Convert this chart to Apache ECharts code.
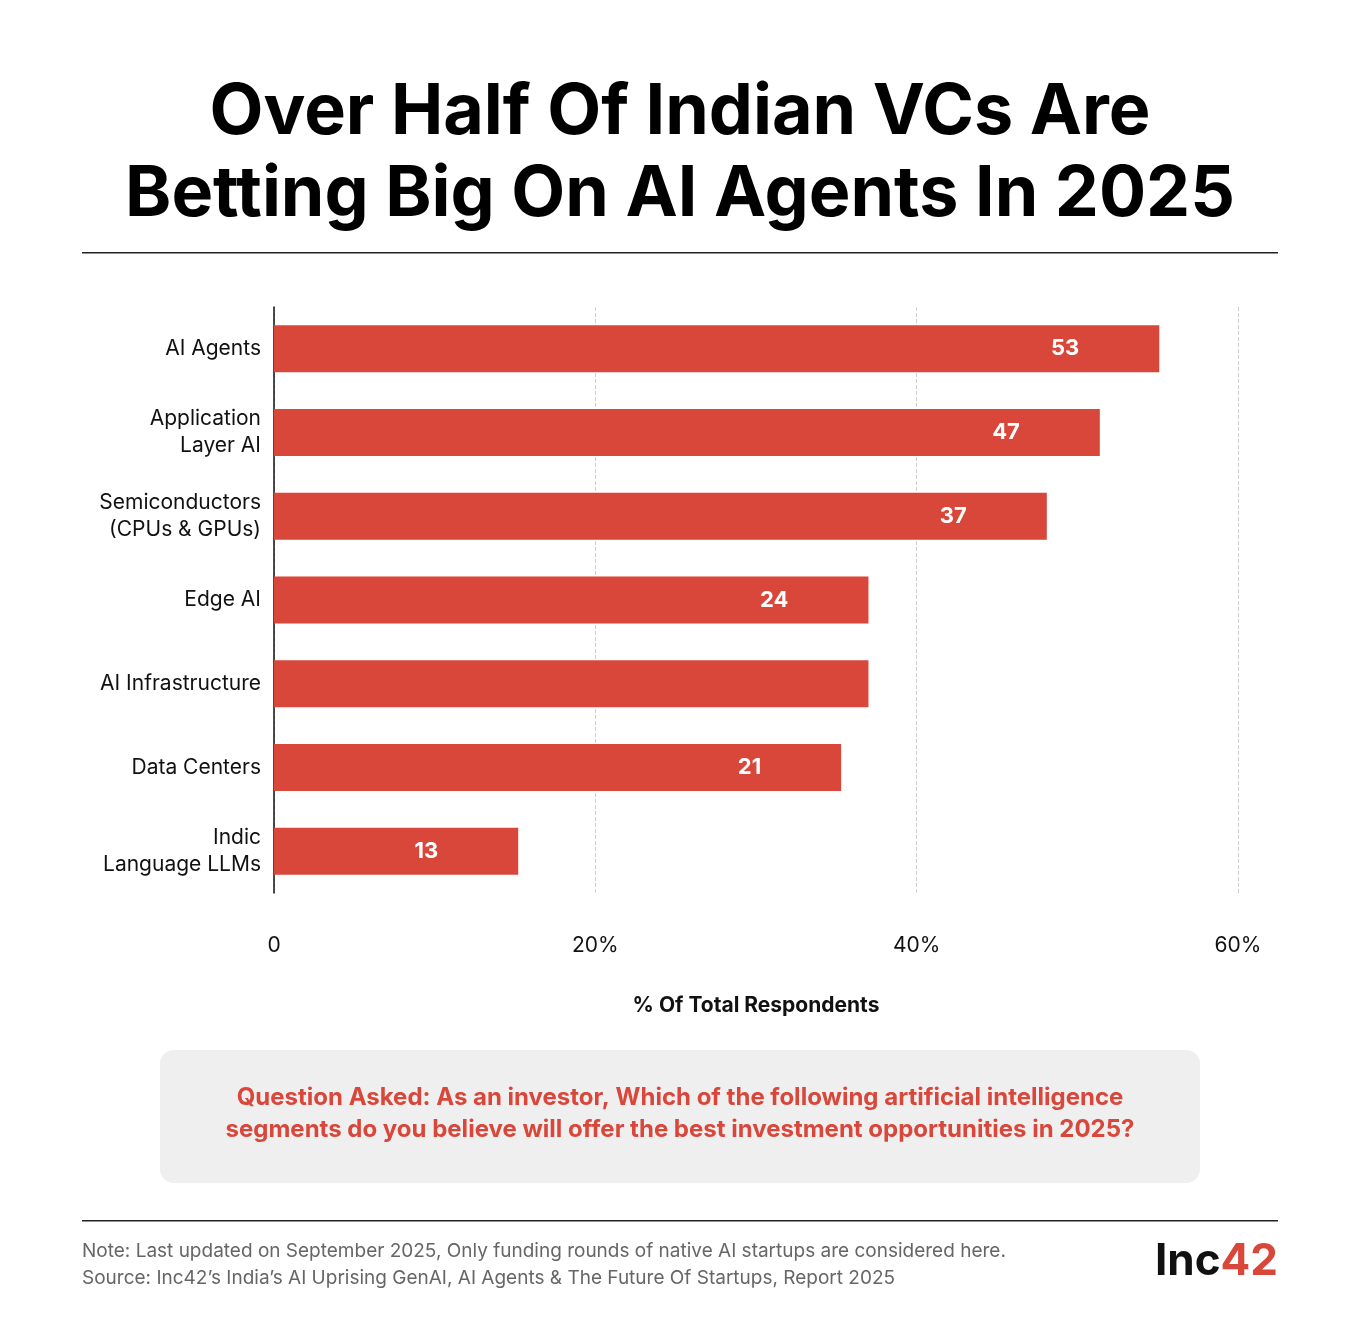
<!DOCTYPE html>
<html>
<head>
<meta charset="utf-8">
<script src="https://cdn.jsdelivr.net/npm/echarts@6/dist/echarts.min.js"></script>
<style>
html,body{margin:0;padding:0;background:#fff;}
#chart{width:1360px;height:1340px;}
</style>
</head>
<body>
<div id="chart"></div>
<script>
"use strict";
// 数据
var categories = ['AI Agents', 'Application\nLayer AI', 'Semiconductors\n(CPUs & GPUs)', 'Edge AI', 'AI Infrastructure', 'Data Centers', 'Indic\nLanguage LLMs'];
// bar lengths as drawn in the picture (% of axis)
var barValues = [55.1, 51.4, 48.1, 37, 37, 35.3, 15.2];
// labels printed on the bars
var barLabels = ['53', '47', '37', '24', '', '21', '13'];
var xTicks = [0, 20, 40, 60];

var FONT = 'Inter, "Noto Sans", sans-serif';
var RED = '#d9463a';

var chart = echarts.init(document.getElementById('chart'));
var option = {
	backgroundColor : '#fff',
	textStyle : { fontFamily : FONT },
	grid : { left : 274, right : 122, top : 307, bottom : 447 },
	xAxis : {
		type : 'value', min : 0, max : 60, interval : 20,
		axisLine : { show : false }, axisTick : { show : false },
		splitLine : { lineStyle : { type : 'dashed', color : '#cfcfcf' } },
		axisLabel : {
			margin : 42, fontSize : 21, color : '#111', fontFamily : FONT,
			formatter : function(v) { return xTicks.indexOf(v) < 0 ? '' : (v === 0 ? '0' : v + '%'); }
		},
		name : '% Of Total Respondents', nameLocation : 'middle', nameGap : 102,
		nameTextStyle : { fontSize : 21, fontWeight : 'bold', color : '#111', fontFamily : FONT }
	},
	yAxis : {
		type : 'category', inverse : true, data : categories,
		axisLine : { lineStyle : { color : '#111', width : 1.5 } },
		axisTick : { show : false },
		axisLabel : { margin : 13, fontSize : 21, lineHeight : 27, color : '#111', fontFamily : FONT }
	},
	series : [ {
		type : 'bar', data : barValues, barWidth : 47,
		itemStyle : { color : RED },
		label : {
			show : true, position : 'insideRight', distance : 80,
			color : '#fff', fontSize : 22, fontWeight : 'bold', fontFamily : FONT,
			formatter : function(p) { return barLabels[p.dataIndex]; }
		}
	} ],
	graphic : [
		{ type : 'text', x : 680, y : 72, style : {
			text : 'Over Half Of Indian VCs Are\nBetting Big On AI Agents In 2025',
			font : 'bold 70px ' + FONT, lineHeight : 82, fill : '#000', align : 'center' } },
		{ type : 'rect', shape : { x : 82, y : 252, width : 1196, height : 1.5 }, style : { fill : '#222' } },
		{ type : 'rect', shape : { x : 160, y : 1050, width : 1040, height : 133, r : 14 }, style : { fill : '#efefef' } },
		{ type : 'text', x : 680, y : 1082, style : {
			text : 'Question Asked: As an investor, Which of the following artificial intelligence\nsegments do you believe will offer the best investment opportunities in 2025?',
			font : 'bold 24px ' + FONT, lineHeight : 32, fill : RED, align : 'center' } },
		{ type : 'rect', shape : { x : 82, y : 1220, width : 1196, height : 1.5 }, style : { fill : '#222' } },
		{ type : 'text', left : 82, top : 1238, style : {
			text : 'Note: Last updated on September 2025, Only funding rounds of native AI startups are considered here.\nSource: Inc42\u2019s India\u2019s AI Uprising GenAI, AI Agents & The Future Of Startups, Report 2025',
			font : '19px ' + FONT, lineHeight : 27, fill : '#666' } },
		{ type : 'text', right : 82, top : 1240, style : {
			text : '{a|Inc}{b|42}',
			rich : { a : { font : 'bold 44px ' + FONT, fill : '#111' }, b : { font : 'bold 44px ' + FONT, fill : RED } } } }
	]
};
chart.setOption(option);
</script>
</body>
</html>
